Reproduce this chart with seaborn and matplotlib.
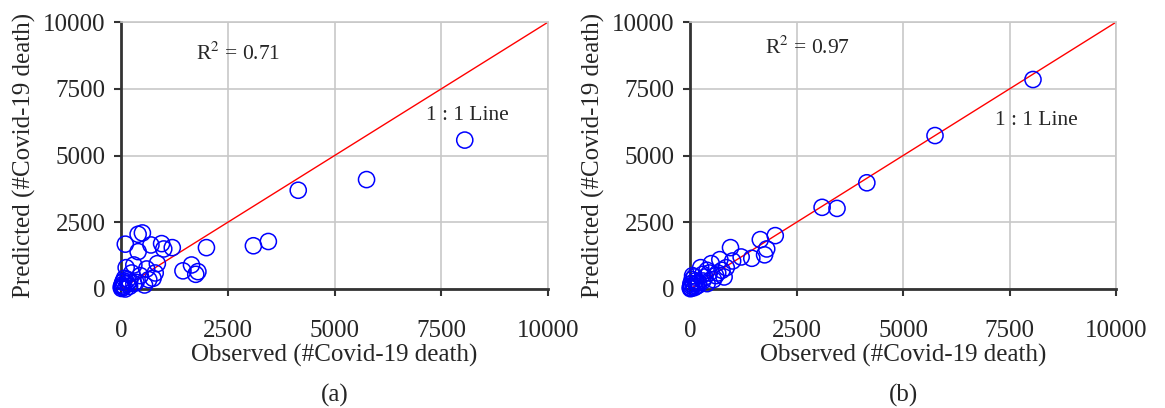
import matplotlib
matplotlib.use("Agg")
import matplotlib.pyplot as plt
import seaborn as sns
import pandas as pd

# observed deaths (shared by both panels)
observed = [8050, 5750, 4150, 3450, 3100, 2000, 1800, 1750, 1650, 1450, 1200, 1000,
            950, 850, 800, 750, 700, 650, 600, 550, 500, 450, 400, 400, 350, 300, 300,
            250, 200, 200, 150, 150, 120, 100, 100, 80, 60, 50, 40, 30, 20, 10, 5]
# predicted, model (a)
pred_a = [5580, 4100, 3700, 1780, 1620, 1550, 650, 550, 900, 680, 1550, 1500,
          1700, 950, 600, 400, 1650, 350, 750, 150, 2100, 500, 2050, 1400, 250, 900, 200,
          600, 300, 100, 350, 200, 800, 1680, 0, 400, 300, 50, 250, 100, 150, 20, 80]
# predicted, model (b)
pred_b = [7850, 5750, 3980, 3020, 3060, 2000, 1500, 1280, 1850, 1150, 1200, 1050,
          1550, 800, 450, 700, 1100, 600, 500, 350, 950, 600, 700, 200, 450, 550, 300,
          800, 250, 150, 200, 100, 300, 450, 50, 150, 500, 350, 100, 30, 200, 10, 60]

r2_labels = ["R$^2$ = 0.71", "R$^2$ = 0.97"]
captions = ["(a)", "(b)"]
axis_range = [0, 10000]
ticks = [0, 2500, 5000, 7500, 10000]

sns.set_style("white")
plt.rcParams["font.family"] = ["Liberation Serif", "DejaVu Serif"]
plt.rcParams["mathtext.fontset"] = "stix"

fig = plt.figure(figsize=(11.65, 4.08), dpi=100)
ax_a = fig.add_axes([0.1039, 0.2917, 0.3665, 0.654])
ax_b = fig.add_axes([0.5923, 0.2917, 0.3657, 0.654])

panels = [(ax_a, pred_a, r2_labels[0], captions[0], (1750, 8600), (7150, 6350)),
          (ax_b, pred_b, r2_labels[1], captions[1], (1750, 8800), (7150, 6150))]

for ax, pred, r2, cap, r2_pos, line_pos in panels:
    df = pd.DataFrame({"obs": observed, "pred": pred})
    sns.lineplot(x=axis_range, y=axis_range, ax=ax, color="red", lw=1)
    sns.scatterplot(data=df, x="obs", y="pred", ax=ax, s=135, marker="o",
                    facecolors="none", edgecolor="blue", linewidth=1.1,
                    clip_on=False, zorder=3)
    ax.set_xlim(axis_range)
    ax.set_ylim(axis_range)
    ax.set_xticks(ticks)
    ax.set_yticks(ticks)
    ax.grid(True, color="#c8c8c8", lw=1.2)
    for s in ["left", "bottom"]:
        ax.spines[s].set_color("#333333")
        ax.spines[s].set_linewidth(2)
    for s in ["top", "right"]:
        ax.spines[s].set_color("#c8c8c8")
        ax.spines[s].set_linewidth(1.2)
    ax.tick_params(axis="both", labelsize=18, direction="out", length=5,
                   width=1.5, color="#333333", left=True, bottom=True)
    ax.tick_params(axis="x", pad=17)
    ax.tick_params(axis="y", pad=6)
    ax.set_xlabel("Observed (#Covid-19 death)", fontsize=18, labelpad=2)
    ax.set_ylabel("Predicted (#Covid-19 death)", fontsize=18, labelpad=5)
    ax.text(r2_pos[0], r2_pos[1], r2, fontsize=15.5)
    ax.text(line_pos[0], line_pos[1], "1 : 1 Line", fontsize=15.5)
    pos = ax.get_position()
    fig.text((pos.x0 + pos.x1) / 2, 0.015, cap, fontsize=18, ha="center")

fig.savefig("out.png", dpi=100)
